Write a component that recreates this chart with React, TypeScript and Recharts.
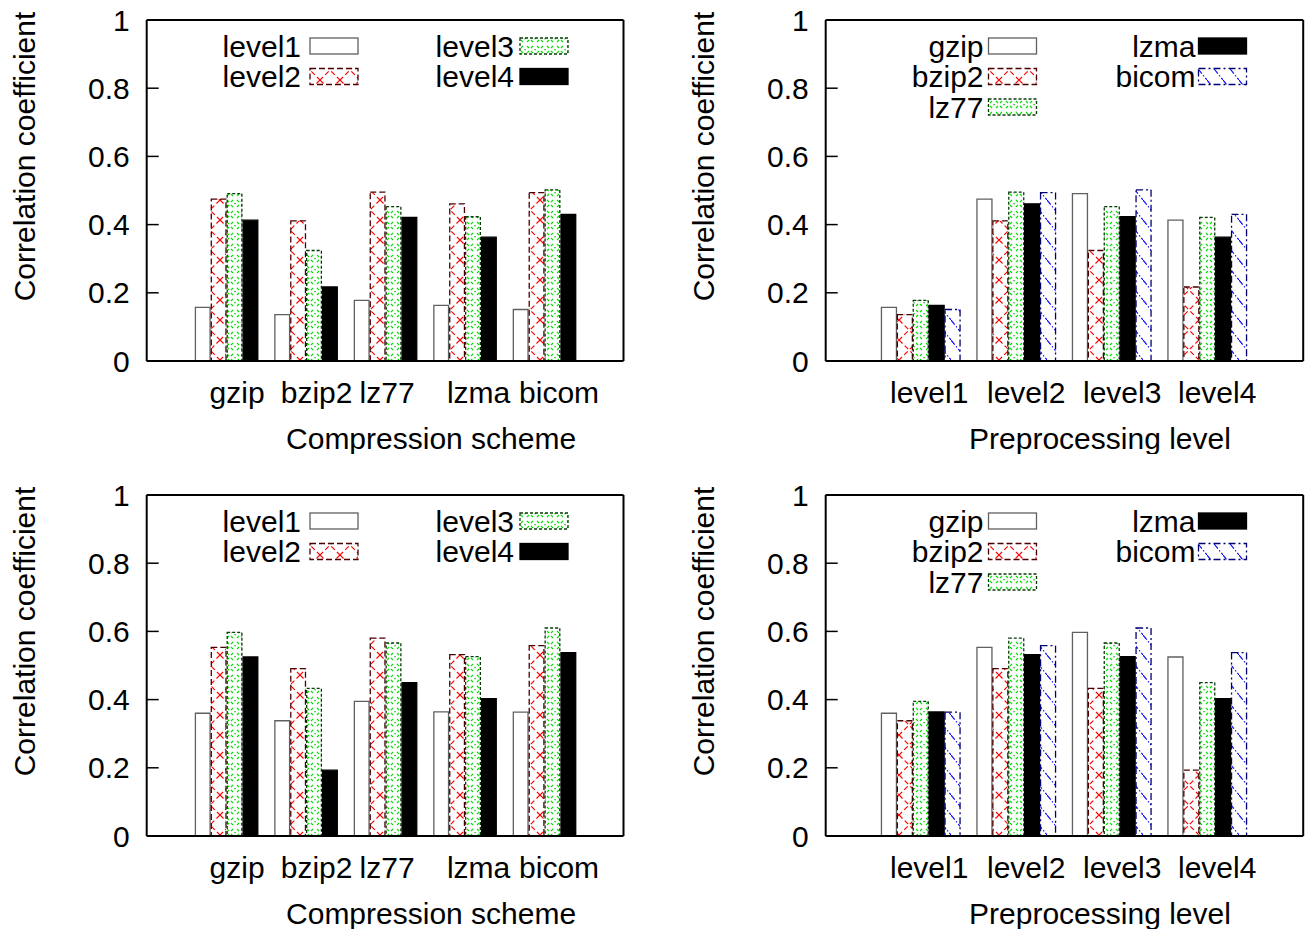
import React from 'react';
import { BarChart, Bar, XAxis, YAxis, Legend } from 'recharts';

// ---------- data ----------
const schemes = ['gzip', 'bzip2', 'lz77', 'lzma', 'bicom'];
const levels = ['level1', 'level2', 'level3', 'level4'];
const yTicks = [0, 0.2, 0.4, 0.6, 0.8, 1];
const yTickLabels = ['0', '0.2', '0.4', '0.6', '0.8', '1'];

// top row of panels: correlation per preprocessing level, indexed by scheme
const topLevel1 = [0.157, 0.136, 0.178, 0.163, 0.151];
const topLevel2 = [0.475, 0.411, 0.495, 0.461, 0.494];
const topLevel3 = [0.491, 0.324, 0.453, 0.423, 0.502];
const topLevel4 = [0.413, 0.217, 0.421, 0.363, 0.43];

// bottom row of panels
const bottomLevel1 = [0.36, 0.338, 0.395, 0.364, 0.363];
const bottomLevel2 = [0.553, 0.491, 0.58, 0.532, 0.558];
const bottomLevel3 = [0.597, 0.433, 0.566, 0.526, 0.61];
const bottomLevel4 = [0.525, 0.193, 0.45, 0.403, 0.538];

const topRows = [topLevel1, topLevel2, topLevel3, topLevel4];
const bottomRows = [bottomLevel1, bottomLevel2, bottomLevel3, bottomLevel4];

const bySchemeData = (rows: number[][]) =>
  schemes.map((name, i) => {
    const d: any = { name };
    levels.forEach((lv, j) => (d[lv] = rows[j][i]));
    return d;
  });
const byLevelData = (rows: number[][]) =>
  levels.map((name, j) => {
    const d: any = { name };
    schemes.forEach((s, i) => (d[s] = rows[j][i]));
    return d;
  });

// ---------- styles ----------
const FONT = '"Liberation Sans", Arial, Helvetica, sans-serif';
const FS = 30;
const W = 626;
const H = 454;

type St = { fill: string; stroke: string; dash?: string };
const styleOf = (p: string, kind: number): St => {
  switch (kind) {
    case 0:
      return { fill: '#ffffff', stroke: '#606060' };
    case 1:
      return { fill: `url(#${p}-red)`, stroke: '#4a0000', dash: '6 3' };
    case 2:
      return { fill: `url(#${p}-green)`, stroke: '#0a3a0a', dash: '3 2' };
    case 3:
      return { fill: '#000000', stroke: '#000000' };
    default:
      return { fill: `url(#${p}-blue)`, stroke: '#000070', dash: '7 3 2 3' };
  }
};

function Patterns({ p }: { p: string }) {
  return (
    <defs>
      <pattern id={`${p}-red`} patternUnits="userSpaceOnUse" width={20} height={20}>
        <rect width={20} height={20} fill="#fff" />
        <path d="M0,0 L20,20 M20,0 L0,20" stroke="#ff0000" strokeWidth={1.2} strokeDasharray="5 3" fill="none" />
      </pattern>
      <pattern id={`${p}-green`} patternUnits="userSpaceOnUse" width={10} height={11}>
        <rect width={10} height={11} fill="#fff" />
        <path d="M1,4 L3,2 M7,2 L9,4 M1,7 L3,9 M7,9 L9,7" stroke="#00e000" strokeWidth={1.1} fill="none" />
        <rect x={4.4} y={5} width={1.3} height={1.3} fill="#00c000" />
      </pattern>
      <pattern id={`${p}-blue`} patternUnits="userSpaceOnUse" width={16} height={20}>
        <rect width={16} height={20} fill="#fff" />
        <path d="M0,0 L16,20" stroke="#0000ff" strokeWidth={1.1} strokeDasharray="6 2 1.5 2" fill="none" />
      </pattern>
    </defs>
  );
}

type PanelCfg = {
  left: number;
  top: number;
  prefix: string;
  data: any[];
  keys: string[];
  xTitle: string;
  xTitleDx: number;
  labelDx: number[];
  padding: number;
  barSize: number;
  barGap: number;
  marginLeft: number;
  marginRight: number;
  legendRows: number;
  legendTextEnd: number[];
  legendSwatchX: number[];
};

function Panel(c: PanelCfg) {
  const styles = c.keys.map((_, i) => styleOf(c.prefix, i));
  const legendContent = () => (
    <svg width={W} height={140} style={{ display: 'block', overflow: 'visible' }}>
      {c.keys.map((k, i) => {
        const col = Math.floor(i / c.legendRows);
        const row = i % c.legendRows;
        const cy = 46 + row * 30.5;
        const st = styles[i];
        return (
          <g key={k}>
            <text
              x={c.legendTextEnd[col]}
              y={cy}
              textAnchor="end"
              dominantBaseline="central"
              fontSize={FS}
              fontFamily={FONT}
              fill="#000"
            >
              {k}
            </text>
            <rect
              x={c.legendSwatchX[col]}
              y={cy - 8}
              width={48}
              height={16}
              fill={st.fill}
              stroke={st.stroke}
              strokeWidth={1.3}
              strokeDasharray={st.dash}
            />
          </g>
        );
      })}
    </svg>
  );

  const XTick = (props: any) => {
    const { x, y, payload, index } = props;
    return (
      <text
        x={x + (c.labelDx[index] || 0)}
        y={y + 42}
        textAnchor="middle"
        fontSize={FS}
        fontFamily={FONT}
        fill="#000"
      >
        {payload.value}
      </text>
    );
  };

  const XTitle = (props: any) => {
    const vb = props.viewBox || {};
    return (
      <text
        x={vb.x + vb.width / 2 + c.xTitleDx}
        y={vb.y + 88}
        textAnchor="middle"
        fontSize={FS}
        fontFamily={FONT}
        fill="#000"
      >
        {c.xTitle}
      </text>
    );
  };

  const YTitle = (props: any) => {
    const vb = props.viewBox || {};
    const cx = vb.x - 62.7;
    const cy = vb.y + vb.height / 2 - 34;
    return (
      <text
        x={cx}
        y={cy}
        transform={`rotate(-90 ${cx} ${cy})`}
        textAnchor="middle"
        dominantBaseline="central"
        fontSize={FS}
        fontFamily={FONT}
        fill="#000"
      >
        Correlation coefficient
      </text>
    );
  };

  return (
    <div style={{ position: 'absolute', left: c.left, top: c.top, width: W, height: H }}>
      <BarChart
        width={W}
        height={H}
        data={c.data}
        margin={{ top: 20, right: c.marginRight, bottom: 63, left: c.marginLeft }}
        barSize={c.barSize}
        barGap={c.barGap}
      >
        <Patterns p={c.prefix} />
        <XAxis
          xAxisId="b"
          dataKey="name"
          type="category"
          height={30}
          padding={{ left: c.padding, right: c.padding }}
          interval={0}
          tickLine={false}
          tickSize={0}
          tickMargin={0}
          axisLine={{ stroke: '#000', strokeWidth: 2 }}
          tick={<XTick />}
          label={<XTitle />}
        />
        <XAxis
          xAxisId="t"
          dataKey="name"
          type="category"
          orientation="top"
          mirror
          height={30}
          padding={{ left: c.padding, right: c.padding }}
          interval={0}
          tick={false}
          tickSize={12}
          tickLine={{ stroke: '#000', strokeWidth: 1.5 }}
          axisLine={{ stroke: '#000', strokeWidth: 2 }}
        />
        <YAxis
          yAxisId="l"
          type="number"
          domain={[0, 1]}
          ticks={yTicks}
          interval={0}
          width={60}
          tickSize={-12}
          tickMargin={29}
          tickLine={{ stroke: '#000', strokeWidth: 1.5 }}
          axisLine={{ stroke: '#000', strokeWidth: 2 }}
          tickFormatter={(v: number) => yTickLabels[yTicks.indexOf(v)] ?? String(v)}
          tick={{ fontSize: FS, fontFamily: FONT, fill: '#000' }}
          label={<YTitle />}
        />
        <YAxis
          yAxisId="r"
          type="number"
          orientation="right"
          mirror
          domain={[0, 1]}
          ticks={yTicks}
          interval={0}
          width={60}
          tick={false}
          tickSize={12}
          tickLine={{ stroke: '#000', strokeWidth: 1.5 }}
          axisLine={{ stroke: '#000', strokeWidth: 2 }}
        />
        {c.keys.map((k, i) => (
          <Bar
            key={k}
            dataKey={k}
            xAxisId="b"
            yAxisId="l"
            fill={styles[i].fill}
            stroke={styles[i].stroke}
            strokeWidth={1.3}
            strokeDasharray={styles[i].dash}
            isAnimationActive={false}
          />
        ))}
        <Legend
          layout="vertical"
          align="center"
          verticalAlign="middle"
          content={legendContent}
          wrapperStyle={{ left: 0, top: 0, width: W, height: 140, pointerEvents: 'none' }}
        />
      </BarChart>
    </div>
  );
}

const schemeLabelDx = [11, 11, 2, 14, 15];
const levelLabelDx = [8, 9.5, 10, 9.5];

export default function App() {
  const common = { marginLeft: 86.7 };
  const leftCfg = {
    ...common,
    keys: levels,
    xTitle: 'Compression scheme',
    xTitleDx: 46,
    labelDx: schemeLabelDx,
    padding: 39.7,
    barSize: 14.7,
    barGap: 1.2,
    marginRight: 2.5,
    legendRows: 2,
    legendTextEnd: [301, 514],
    legendSwatchX: [310, 520],
  };
  const rightCfg = {
    ...common,
    keys: schemes,
    xTitle: 'Preprocessing level',
    xTitleDx: 35.5,
    labelDx: levelLabelDx,
    padding: 47.75,
    barSize: 15,
    barGap: 0.9,
    marginRight: 1.8,
    legendRows: 3,
    legendTextEnd: [304.5, 516.5],
    legendSwatchX: [309.5, 519.5],
  };
  return (
    <div
      style={{
        position: 'absolute',
        left: 0,
        top: 0,
        width: 1305,
        height: 929,
        background: '#fff',
        fontFamily: FONT,
        overflow: 'hidden',
      }}
    >
      <Panel {...leftCfg} left={0} top={0} prefix="tl" data={bySchemeData(topRows)} />
      <Panel {...rightCfg} left={678.8} top={0} prefix="tr" data={byLevelData(topRows)} />
      <Panel {...leftCfg} left={0} top={475} prefix="bl" data={bySchemeData(bottomRows)} />
      <Panel {...rightCfg} left={678.8} top={475} prefix="br" data={byLevelData(bottomRows)} />
    </div>
  );
}
